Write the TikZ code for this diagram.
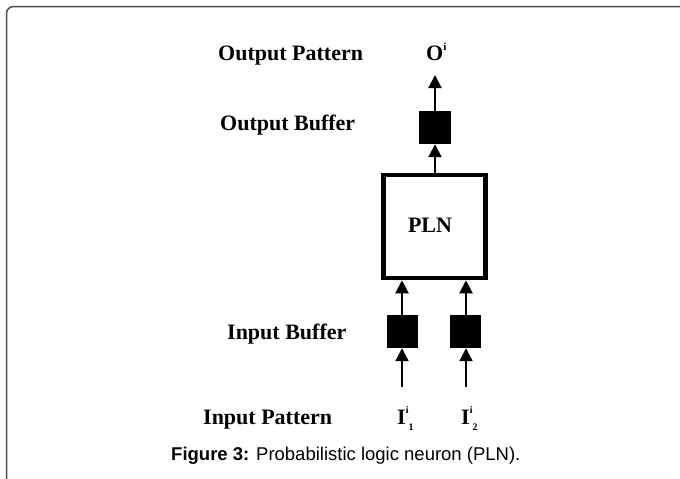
\documentclass[tikz,border=0pt]{standalone}
\usepackage{fontspec}
\setmainfont{Liberation Serif}
\newfontfamily\capfont{Liberation Sans}
\usetikzlibrary{arrows.meta}
% pattern symbol with a small raised index followed by a lowered one
\newcommand\patsym[3]{#1\raisebox{0.5em}{\fontsize{10}{10}\selectfont #2}\raisebox{-0.3em}{\fontsize{10}{10}\selectfont #3}}
\begin{document}
\begin{tikzpicture}[x=1pt,y=-1pt,
  lbl/.style={font=\fontsize{22}{24}\selectfont\bfseries, inner sep=0pt, anchor=base west},
  buf/.style={fill=black, draw=none, minimum width=32pt, minimum height=33pt, inner sep=0pt},
  flow/.style={line width=2pt, -{Triangle[length=13pt,width=13pt]}},
  frame/.style={draw=black!70, line width=1.5pt}]
\useasboundingbox (0,0) rectangle (680,479);
% panel frame
\draw[frame, rounded corners=7pt] (6.5,479) -- (6.5,6.5) -- (680,6.5);

% neuron and buffers
\node[draw, line width=4.5pt, minimum width=102pt, minimum height=103pt, inner sep=0pt] (pln) at (434.5,226.5) {};
\node[font=\fontsize{22}{24}\selectfont\bfseries, inner sep=0pt] (plntxt) at (430,225) {PLN};
\node[buf] (ob) at (435,127.5) {};
\node[buf, minimum width=31pt] (ib1) at (402.5,331.5) {};
\node[buf, minimum width=31pt] (ib2) at (465,331.5) {};

% free arrow ends
\coordinate (otop) at (435,75);
\coordinate (in1) at (402,387);
\coordinate (in2) at (466,387);

% connectors
\draw[flow] (ob.north) -- (otop);
\draw[flow] (pln.north -| ob.center) -- (ob.south);
\draw[flow] (in1) -- (in1 |- ib1.south);
\draw[flow] (in2) -- (in2 |- ib2.south);
\draw[flow] (in1 |- ib1.north) -- (in1 |- pln.south);
\draw[flow] (in2 |- ib2.north) -- (in2 |- pln.south);

% labels
\node[lbl] (op) at (218,60) {Output Pattern};
\node[lbl] (oi) at (426,60) {O\raisebox{0.45em}{\fontsize{11}{11}\selectfont i}};
\node[lbl] (obl) at (220,130) {Output Buffer};
\node[lbl] (ibl) at (227,339) {Input Buffer};
\node[lbl] (ipl) at (203,424) {Input Pattern};
\node[lbl] (i1) at (397,424) {\patsym{I}{i}{1}};
\node[lbl] (i2) at (461,424) {\patsym{I}{i}{2}};

% caption
\node[anchor=base west, inner sep=0pt, font=\capfont\fontsize{18.5}{20}\selectfont] (cap) at (171,460)
  {\textbf{Figure 3:} Probabilistic logic neuron (PLN).};
\end{tikzpicture}
\end{document}
